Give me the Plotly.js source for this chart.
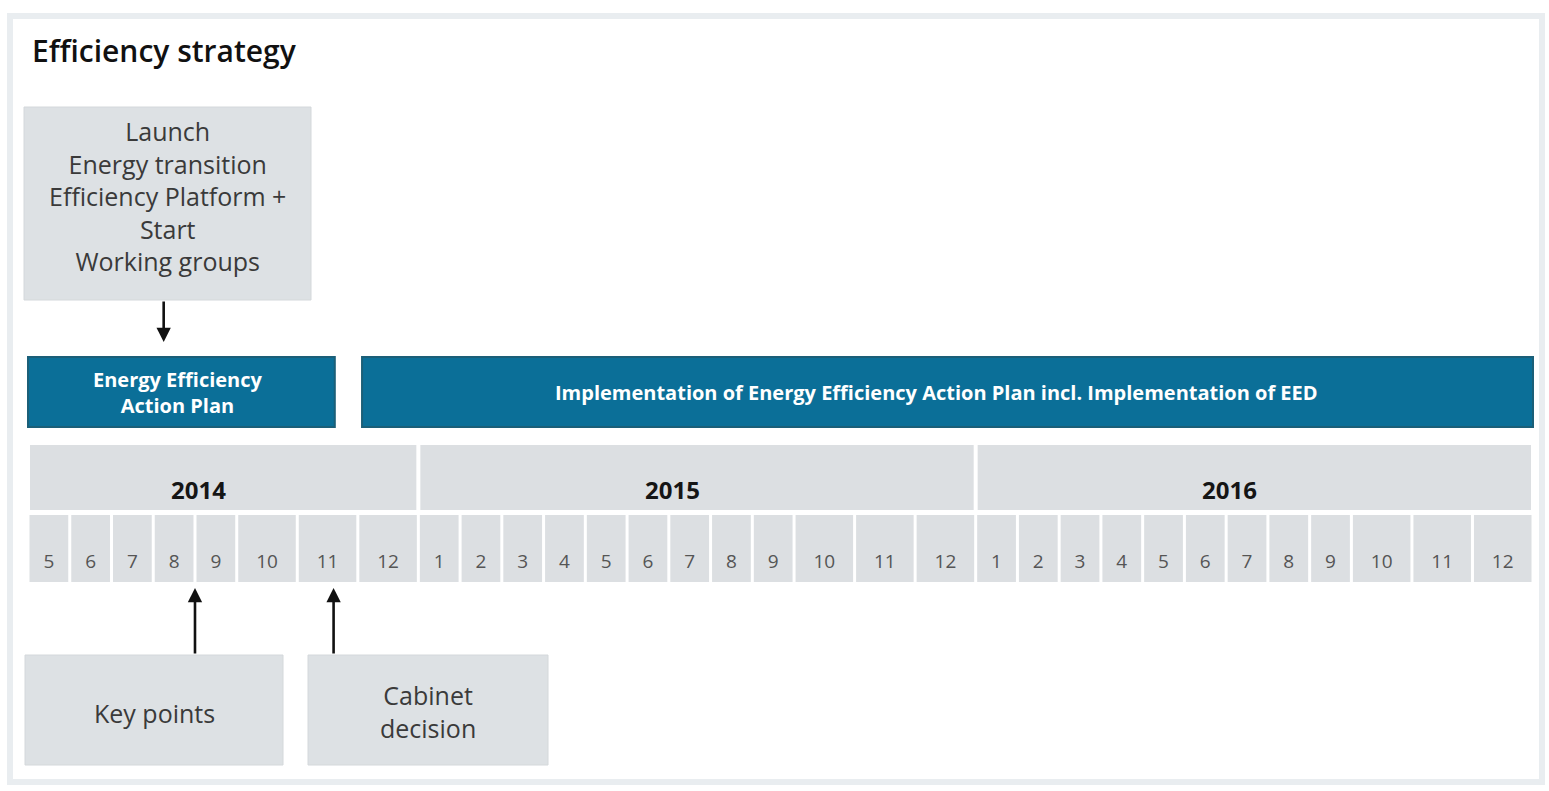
<!DOCTYPE html>
<html>
<head>
<meta charset="utf-8">
<script src="https://cdn.plot.ly/plotly-3.0.1.min.js"></script>
<style>html,body{margin:0;padding:0;background:#fff;}#chart{width:1549px;height:791px;}</style>
</head>
<body>
<div id="chart"></div>
<script>
// ---------------- data ----------------
const years = ['2014', '2015', '2016'];
const months2014 = [5, 6, 7, 8, 9, 10, 11, 12];
const months2015 = [1, 2, 3, 4, 5, 6, 7, 8, 9, 10, 11, 12];
const months2016 = [1, 2, 3, 4, 5, 6, 7, 8, 9, 10, 11, 12];

const phaseLabels = ['Energy Efficiency<br>Action Plan',
  'Implementation of Energy Efficiency Action Plan incl. Implementation of EED'];
const phaseStartMonth = ['2014-05', '2014-12'];
const phaseStartFrac = [0, 0.07];
const phaseEndMonth = ['2014-11', '2016-12'];
const phaseEndFrac = [0.62, 1];

const eventLabels = ['Launch<br>Energy transition<br>Efficiency Platform +<br>Start<br>Working groups',
  'Key points', 'Cabinet<br>decision'];
const eventMonth = ['2014-08', '2014-09', '2014-11'];
const eventFrac = [0.25, 0.0, 0.6];

const chartTitle = 'Efficiency strategy';

// ---------------- layout helpers ----------------
const W = 1549, H = 791;
const GRID_L = 28, GRID_R = 1533;
const ROW_PHASE = [357, 427], ROW_YEAR = [445, 510], ROW_MONTH = [515, 582];
const monthLists = [months2014, months2015, months2016];
const cellUnits = m => (String(m).length > 1 ? 1.45 : 1);

const cells = [];
const yearCells = [];
let pos = 0;
monthLists.forEach((list, yi) => {
  const y0 = pos;
  list.forEach(m => {
    const w = cellUnits(m);
    cells.push({key: years[yi] + '-' + String(m).padStart(2, '0'), label: String(m), start: pos, width: w});
    pos += w;
  });
  yearCells.push({label: years[yi], start: y0, width: pos - y0});
});
const totalUnits = pos;
const ppu = (GRID_R - GRID_L) / totalUnits;
const xRange = [-GRID_L / ppu, (W - GRID_L) / ppu];
const pxToX = px => (px - GRID_L) / ppu;
const gapM = 3 / ppu, gapY = 4 / ppu;
const cellByKey = {};
cells.forEach(c => cellByKey[c.key] = c);
const monthPos = (key, f) => cellByKey[key].start + f * cellByKey[key].width;

const FONT = 'Open Sans, sans-serif';
// ---------------- traces ----------------
const traces = [];
traces.push({
  type: 'bar', x: cells.map(c => c.start + c.width / 2), width: cells.map(c => c.width - gapM),
  base: cells.map(() => ROW_MONTH[0]), y: cells.map(() => ROW_MONTH[1] - ROW_MONTH[0]),
  marker: {color: '#dcdfe2', line: {width: 0}}, hoverinfo: 'skip', showlegend: false
});
traces.push({
  type: 'scatter', mode: 'text', x: cells.map(c => c.start + c.width / 2), y: cells.map(() => 563),
  text: cells.map(c => c.label), textposition: 'middle center',
  textfont: {family: FONT, size: 19, color: '#555555'}, hoverinfo: 'skip', showlegend: false
});
traces.push({
  type: 'bar', x: yearCells.map(c => c.start + c.width / 2), width: yearCells.map(c => c.width - gapY),
  base: yearCells.map(() => ROW_YEAR[0]), y: yearCells.map(() => ROW_YEAR[1] - ROW_YEAR[0]),
  marker: {color: '#dcdfe2', line: {width: 0}}, hoverinfo: 'skip', showlegend: false
});
const pStart = phaseStartMonth.map((k, i) => monthPos(k, phaseStartFrac[i]));
const pEnd = phaseEndMonth.map((k, i) => monthPos(k, phaseEndFrac[i]));
traces.push({
  type: 'bar', x: pStart.map((s, i) => (s + pEnd[i]) / 2), width: pStart.map((s, i) => pEnd[i] - s),
  base: pStart.map(() => ROW_PHASE[0]), y: pStart.map(() => ROW_PHASE[1] - ROW_PHASE[0]),
  marker: {color: '#0b6f98', line: {width: 2, color: '#1b5f78'}}, hoverinfo: 'skip', showlegend: false
});

const shapes = [];
const annotations = [];
yearCells.forEach(c => {
  annotations.push({xref: 'x', yref: 'y', x: c.start + c.width / 2, y: 489, xshift: -25, text: '<b>' + c.label + '</b>',
    showarrow: false, font: {family: FONT, size: 24, color: '#151515'}});
});
phaseLabels.forEach((t, i) => {
  annotations.push({xref: 'x', yref: 'y', x: (pStart[i] + pEnd[i]) / 2, y: 392, xshift: i === 0 ? -3 : -11,
    text: '<b>' + t + '</b>', showarrow: false, align: 'center',
    font: {family: FONT, size: 20, color: '#ffffff'}});
});

// ---------------- event boxes and arrows ----------------
const boxPx = [
  {x0: 24, x1: 311, y0: 107, y1: 300, tail: 300, head: 342, ty: 196},
  {x0: 25, x1: 283, y0: 655, y1: 765, tail: 655, head: 588, ty: 713},
  {x0: 308, x1: 548, y0: 655, y1: 765, tail: 655, head: 588, ty: 711}
];
eventLabels.forEach((lab, i) => {
  const b = boxPx[i];
  shapes.push({type: 'rect', xref: 'x', yref: 'y', x0: pxToX(b.x0), x1: pxToX(b.x1), y0: b.y0, y1: b.y1,
    fillcolor: '#dde1e4', line: {width: 1, color: '#d4d8db'}, layer: 'below'});
  annotations.push({xref: 'x', yref: 'y', x: pxToX((b.x0 + b.x1) / 2), y: b.ty, text: lab, showarrow: false,
    font: {family: FONT, size: 25, color: '#3a3a3a'}, align: 'center'});
  const ex = monthPos(eventMonth[i], eventFrac[i]);
  annotations.push({xref: 'x', yref: 'y', axref: 'x', ayref: 'y', x: ex, y: b.head, ax: ex, ay: b.tail,
    text: '', showarrow: true, arrowhead: 2, arrowsize: 1.1, arrowwidth: 2.6, arrowcolor: '#111111', standoff: 0});
});
shapes.push({type: 'rect', xref: 'paper', yref: 'paper', x0: 10 / W, x1: 1542 / W, y0: 1 - 782 / H, y1: 1 - 16 / H,
  line: {width: 6, color: '#e9edf0'}, fillcolor: 'rgba(0,0,0,0)', layer: 'below'});

const layout = {
  width: W, height: H,
  margin: {l: 0, r: 0, t: 0, b: 0, pad: 0},
  paper_bgcolor: '#ffffff', plot_bgcolor: '#ffffff',
  barmode: 'overlay',
  title: {text: chartTitle, x: 32 / W, xanchor: 'left', y: 1 - 51 / H, yanchor: 'middle', xref: 'container', yref: 'container',
    font: {family: FONT, size: 30, color: '#111111', weight: 600}},
  xaxis: {range: xRange, visible: false, fixedrange: true},
  yaxis: {range: [H, 0], visible: false, fixedrange: true},
  shapes: shapes,
  annotations: annotations,
  showlegend: false
};
Plotly.newPlot('chart', traces, layout, {staticPlot: true, displayModeBar: false});
</script>
</body>
</html>
